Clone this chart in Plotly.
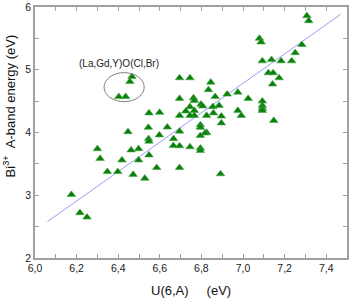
import plotly.graph_objects as go

# Data (U(6,A) in eV, Bi3+ A-band energy in eV)
u_values = [7.307, 7.316, 7.079, 7.087, 7.283, 7.251, 7.093, 7.137, 7.183, 7.234,
            7.122, 7.145, 7.174, 7.142, 6.695, 6.745, 6.845, 6.834, 6.924, 6.975,
            7.025, 7.093, 7.093, 7.093, 7.093, 6.695, 6.762, 6.766, 6.866, 6.798,
            6.806, 6.745, 6.855, 6.885, 6.725, 6.766, 6.766, 6.695, 6.745, 6.825,
            6.858, 6.896, 6.975, 6.992, 6.896, 7.148, 6.795, 6.795, 6.695, 6.825,
            6.817, 6.795, 6.666, 6.665, 6.695, 6.745, 6.795, 6.795, 6.466, 6.456,
            6.403, 6.436, 6.548, 6.599, 6.447, 6.545, 6.636, 6.598, 6.546, 6.548,
            6.300, 6.462, 6.498, 6.313, 6.418, 6.498, 6.548, 6.585, 6.348, 6.398,
            6.472, 6.528, 6.695, 6.892, 6.175, 6.216, 6.250]
a_band = [5.86, 5.78, 5.50, 5.44, 5.40, 5.27, 5.14, 5.16, 5.14, 5.14,
          4.95, 4.95, 4.87, 4.77, 4.87, 4.87, 4.80, 4.68, 4.61, 4.64,
          4.54, 4.50, 4.43, 4.385, 4.35, 4.54, 4.55, 4.51, 4.57, 4.45,
          4.42, 4.41, 4.41, 4.43, 4.34, 4.35, 4.27, 4.27, 4.27, 4.27,
          4.31, 4.26, 4.35, 4.27, 4.15, 4.19, 4.12, 4.08, 4.02, 4.00,
          3.99, 3.95, 3.90, 3.79, 3.785, 3.77, 3.75, 3.71, 4.89, 4.81,
          4.57, 4.57, 4.31, 4.32, 4.01, 4.08, 4.085, 3.96, 3.90, 3.86,
          3.74, 3.72, 3.74, 3.585, 3.56, 3.56, 3.64, 3.44, 3.375, 3.375,
          3.33, 3.27, 3.44, 3.34, 3.01, 2.72, 2.65]

# Fitted trend line end points
fit_x = [6.06, 7.47]
fit_y = [2.58, 5.885]

# Group ellipse (data coords) and label
group_label = "(La,Gd,Y)O(Cl,Br)"
ellipse_x = [6.332, 6.525]
ellipse_y = [4.492, 4.954]
label_pos = [6.403, 5.096]

x_ticks = [6.0, 6.2, 6.4, 6.6, 6.8, 7.0, 7.2, 7.4]
y_ticks = [2, 3, 4, 5, 6]

fig = go.Figure()
fig.add_trace(go.Scatter(x=fit_x, y=fit_y, mode="lines",
                         line=dict(color="#9c9cf4", width=1), hoverinfo="skip"))
fig.add_trace(go.Scatter(x=u_values, y=a_band, mode="markers",
                         marker=dict(symbol="triangle-up", size=7.5, color="#0b7f0b",
                                     line=dict(color="#4aa84a", width=0.6))))

fig.add_shape(type="circle", xref="x", yref="y",
              x0=ellipse_x[0], x1=ellipse_x[1], y0=ellipse_y[0], y1=ellipse_y[1],
              line=dict(color="#808080", width=1))
fig.add_annotation(x=label_pos[0], y=label_pos[1], xref="x", yref="y",
                   text=group_label, showarrow=False,
                   font=dict(size=10, color="#222222"))

# Axis titles
fig.add_annotation(x=-0.0825, y=0.605, xref="paper", yref="paper",
                   text="Bi<sup>3+</sup>\u00a0\u00a0A-band energy (eV)", textangle=-90,
                   showarrow=False, xanchor="center", yanchor="middle",
                   font=dict(size=13, color="#111111"))
fig.add_annotation(x=0.5, y=-0.130, xref="paper", yref="paper",
                   text="U(6,A)\u00a0\u00a0\u00a0\u00a0\u00a0(eV)",
                   showarrow=False, xanchor="center", yanchor="middle",
                   font=dict(size=13, color="#111111"))

axis_common = dict(showline=True, linecolor="#a0a0a0", linewidth=1.5, mirror="ticks",
                   ticks="inside", ticklen=4, tickcolor="#a0a0a0", tickwidth=1,
                   showgrid=False, zeroline=False, ticklabeloverflow="allow",
                   tickfont=dict(size=10.5, color="#222222"))

fig.update_xaxes(range=[6.0, 7.5], tickvals=x_ticks, tickformat=".1f",
                 minor=dict(dtick=0.1, ticks="inside", ticklen=4, tickcolor="#a0a0a0",
                            showgrid=False),
                 **axis_common)
fig.update_yaxes(range=[2, 6], tickvals=y_ticks,
                 minor=dict(dtick=0.5, ticks="inside", ticklen=4, tickcolor="#a0a0a0",
                            showgrid=False),
                 **axis_common)

fig.update_layout(width=350, height=298, margin=dict(l=35, r=1, t=5, b=40),
                  plot_bgcolor="white", paper_bgcolor="white", showlegend=False,
                  separators=", ",
                  font=dict(family="Liberation Sans, Arial, sans-serif"))

fig.write_html("out.html", config={"displayModeBar": False},
               post_script="document.body.style.margin='0';document.body.style.overflow='hidden';")
